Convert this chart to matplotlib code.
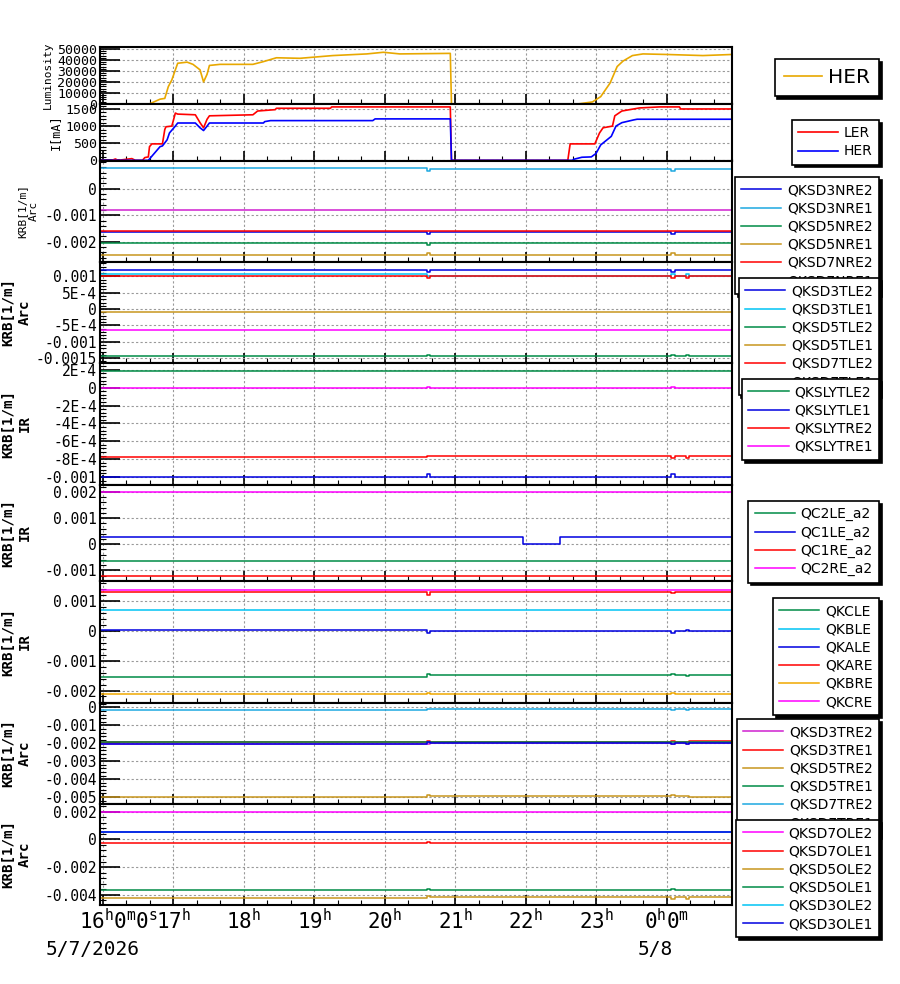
import matplotlib
matplotlib.use('Agg')
import matplotlib.pyplot as plt
from matplotlib.ticker import FixedLocator, FixedFormatter, AutoMinorLocator, MultipleLocator

plt.rcParams['font.family'] = 'DejaVu Sans Mono'
plt.rcParams['mathtext.fontset'] = 'custom'
plt.rcParams['mathtext.rm'] = 'DejaVu Sans Mono'
plt.rcParams['mathtext.it'] = 'DejaVu Sans Mono'


def hours(s):
    h, m = s.split(':')
    h = int(h)
    if h < 12:
        h += 24
    return h + int(m) / 60


# ---- beam monitor ----
LUMI_T = ['15:58', '16:40', '16:49', '16:53', '16:56', '16:59', '17:02', '17:04', '17:12', '17:17',
          '17:23', '17:26', '17:29', '17:31', '17:40', '18:08', '18:17', '18:28', '18:48', '19:16',
          '19:45', '19:59', '20:13', '20:56', '20:57', '22:45', '22:57', '23:04', '23:12', '23:18',
          '23:23', '23:31', '23:40', '00:00', '00:31', '00:56']
LUMI_HER = [0, 0, 4300, 5000, 15700, 21800, 31000, 37000, 38000, 36000,
            31000, 20000, 27000, 35000, 36000, 36000, 38500, 42000, 41500, 44000,
            45500, 47000, 45500, 46000, 0, 0, 1800, 6600, 19000, 34000,
            39000, 44000, 45500, 45000, 44000, 45000]

LER_T = ['15:58', '16:08', '16:11', '16:13', '16:25', '16:28', '16:34', '16:36', '16:39', '16:40',
         '16:42', '16:51', '16:53', '16:54', '16:59', '17:02', '17:04', '17:19', '17:23', '17:26',
         '17:29', '17:31', '18:08', '18:12', '18:27', '18:28', '19:14', '19:15', '20:56', '20:57',
         '22:36', '22:38', '22:59', '23:03', '23:06', '23:14', '23:16', '23:22', '23:37', '23:54',
         '00:11', '00:12', '00:56']
LER_I = [0, 0, 40, 0, 50, 0, 0, 80, 100, 400,
         480, 480, 900, 980, 1000, 1380, 1350, 1330, 1100, 950,
         1200, 1300, 1330, 1440, 1480, 1520, 1520, 1560, 1560, 0,
         0, 480, 480, 800, 950, 1000, 1300, 1440, 1530, 1560,
         1560, 1500, 1500]

HER_T = ['15:58', '16:39', '16:49', '16:51', '16:55', '16:57', '17:02', '17:04', '17:19', '17:23',
         '17:26', '17:29', '17:31', '18:17', '18:18', '18:23', '19:50', '19:52', '20:56', '20:57',
         '22:40', '22:41', '22:48', '22:56', '23:00', '23:04', '23:13', '23:17', '23:22', '23:32',
         '23:35', '00:56']
HER_I = [0, 0, 400, 420, 600, 800, 1000, 1090, 1090, 950,
         870, 1000, 1090, 1090, 1130, 1160, 1160, 1210, 1210, 0,
         0, 30, 90, 100, 200, 450, 700, 1000, 1100, 1180,
         1200, 1200]

# ---- magnet strengths (steps) ----
KRB_T = ['15:58', '20:36', '20:39', '00:04', '00:07', '00:17', '00:19', '00:56']

ARC_N_NAMES = ['QKSD3NRE2', 'QKSD3NRE1', 'QKSD5NRE2', 'QKSD5NRE1', 'QKSD7NRE2', 'QKSD7NRE1']
ARC_N_VALUES = [
    [-0.00164, -0.00172, -0.00164, -0.00172, -0.00164, -0.00164, -0.00164, -0.00164],
    [0.00079, 0.00068, 0.00075, 0.00068, 0.00075, 0.00075, 0.00075, 0.00075],
    [-0.00206, -0.00212, -0.00206, -0.00206, -0.00206, -0.00206, -0.00206, -0.00206],
    [-0.00251, -0.00244, -0.00251, -0.00244, -0.00251, -0.00251, -0.00251, -0.00251],
    [-0.00161, -0.00161, -0.00161, -0.00161, -0.00161, -0.00161, -0.00161, -0.00161],
    [-0.00079, -0.00079, -0.00079, -0.00079, -0.00079, -0.00079, -0.00079, -0.00079],
]

ARC_T_NAMES = ['QKSD3TLE2', 'QKSD3TLE1', 'QKSD5TLE2', 'QKSD5TLE1', 'QKSD7TLE2', 'QKSD7TLE1']
ARC_T_VALUES = [
    [0.00121, 0.00112, 0.00121, 0.00112, 0.00121, 0.00121, 0.00121, 0.00121],
    [0.00106, 0.00101, 0.00101, 0.00106, 0.00101, 0.00106, 0.00101, 0.00101],
    [-0.00145, -0.00139, -0.00145, -0.00139, -0.00145, -0.00139, -0.00145, -0.00145],
    [-0.00010, -0.00010, -0.00010, -0.00010, -0.00010, -0.00010, -0.00010, -0.00010],
    [0.00101, 0.00095, 0.00101, 0.00095, 0.00101, 0.00095, 0.00101, 0.00101],
    [-0.00065, -0.00065, -0.00065, -0.00065, -0.00065, -0.00065, -0.00065, -0.00065],
]

IR_SLY_NAMES = ['QKSLYTLE2', 'QKSLYTLE1', 'QKSLYTRE2', 'QKSLYTRE1']
IR_SLY_VALUES = [
    [0.00019, 0.00019, 0.00019, 0.00019, 0.00019, 0.00019, 0.00019, 0.00019],
    [-0.000995, -0.00097, -0.000995, -0.00097, -0.000995, -0.000995, -0.000995, -0.000995],
    [-0.00078, -0.000765, -0.000765, -0.00079, -0.000765, -0.00079, -0.000765, -0.000765],
    [-0.000005, 0.00001, -0.000005, 0.00001, -0.000005, -0.000005, -0.000005, -0.000005],
]

QC_T = ['15:58', '21:58', '22:29', '00:56']
IR_QC_NAMES = ['QC2LE_a2', 'QC1LE_a2', 'QC1RE_a2', 'QC2RE_a2']
IR_QC_VALUES = [
    [-0.00065, -0.00065, -0.00065, -0.00065],
    [0.000268, 0.0, 0.000268, 0.000268],
    [-0.0012, -0.0012, -0.0012, -0.0012],
    [0.00202, 0.00202, 0.00202, 0.00202],
]

IR_QK_NAMES = ['QKCLE', 'QKBLE', 'QKALE', 'QKARE', 'QKBRE', 'QKCRE']
IR_QK_VALUES = [
    [-0.00153, -0.00143, -0.00149, -0.00143, -0.00149, -0.00152, -0.00149, -0.00149],
    [0.000697, 0.000697, 0.000697, 0.000697, 0.000697, 0.000697, 0.000697, 0.000697],
    [0.000044, -0.00008, 0.00001, -0.00008, 0.00001, 0.00004, 0.00001, 0.00001],
    [0.0013, 0.00122, 0.0013, 0.00127, 0.0013, 0.0013, 0.0013, 0.0013],
    [-0.00213, -0.00208, -0.00213, -0.00208, -0.00213, -0.00213, -0.00213, -0.00213],
    [0.00137, 0.00137, 0.00137, 0.00137, 0.00137, 0.00137, 0.00137, 0.00137],
]

ARC_TR_NAMES = ['QKSD3TRE2', 'QKSD3TRE1', 'QKSD5TRE2', 'QKSD5TRE1', 'QKSD7TRE2', 'QKSD7TRE1']
ARC_TR_VALUES = [
    [-0.00204, -0.00204, -0.00196, -0.00204, -0.00196, -0.00204, -0.00196, -0.00196],
    [-0.00194, -0.00185, -0.00194, -0.00185, -0.00194, -0.00194, -0.00185, -0.00194],
    [-0.00500, -0.00490, -0.00494, -0.00488, -0.00494, -0.00494, -0.00500, -0.00494],
    [-0.00194, -0.00194, -0.00194, -0.00194, -0.00194, -0.00194, -0.00194, -0.00194],
    [-0.000156, -0.0001, -0.0001, -0.00016, -0.0001, -0.00016, -0.0001, -0.0001],
    [-0.00204, -0.00194, -0.00196, -0.00204, -0.00196, -0.00204, -0.00196, -0.00196],
]

ARC_OL_NAMES = ['QKSD7OLE2', 'QKSD7OLE1', 'QKSD5OLE2', 'QKSD5OLE1', 'QKSD3OLE2', 'QKSD3OLE1']
ARC_OL_VALUES = [
    [0.0020, 0.00195, 0.0020, 0.0020, 0.0020, 0.0020, 0.0020, 0.0020],
    [-0.00029, -0.0002, -0.00029, -0.00029, -0.00029, -0.00029, -0.00029, -0.00029],
    [-0.00425, -0.0041, -0.00418, -0.0043, -0.00418, -0.0043, -0.00418, -0.00418],
    [-0.00365, -0.00358, -0.00365, -0.00358, -0.00365, -0.00365, -0.00365, -0.00365],
    [0.00052, 0.00052, 0.00052, 0.00052, 0.00052, 0.00052, 0.00052, 0.00052],
    [0.00050, 0.00050, 0.00050, 0.00050, 0.00050, 0.00050, 0.00050, 0.00050],
]

BLUE, LBLUE, CYAN, GREEN = '#0000e0', '#1ca8e0', '#00c4f4', '#008c46'
GOLD, ORANGE, RED, MAG, PINK = '#c8961e', '#f0a800', '#ff0000', '#d020d0', '#ff00ff'

ARC_N_COLORS = [BLUE, LBLUE, GREEN, GOLD, RED, MAG]
ARC_T_COLORS = [BLUE, CYAN, GREEN, GOLD, RED, PINK]
IR_SLY_COLORS = [GREEN, BLUE, RED, PINK]
IR_QC_COLORS = [GREEN, BLUE, RED, PINK]
IR_QK_COLORS = [GREEN, CYAN, BLUE, RED, ORANGE, PINK]
ARC_TR_COLORS = [MAG, RED, GOLD, GREEN, LBLUE, BLUE]
ARC_OL_COLORS = [PINK, RED, GOLD, GREEN, CYAN, BLUE]

HOUR_TICKS = [16, 17, 18, 19, 20, 21, 22, 23, 24]
HOUR_LABELS = ['', '$17^{h}$', '$18^{h}$', '$19^{h}$', '$20^{h}$', '$21^{h}$', '$22^{h}$',
               '$23^{h}$', '$0^{h}0^{m}$']

fig = plt.figure(figsize=(9, 9.84), dpi=100)
heights = [57, 56.5, 101.5, 101, 122, 96, 122, 101, 101]
gs = fig.add_gridspec(9, 1, height_ratios=heights, hspace=0,
                      left=100 / 900, right=732 / 900, top=1 - 47 / 984, bottom=1 - 905 / 984)
axes = [fig.add_subplot(gs[0])]
for i in range(1, 9):
    axes.append(fig.add_subplot(gs[i], sharex=axes[0]))

legend_tops = [59, 120, 177, 278, 379, 501, 598, 719, 820]


def style(ax, ticks, labels, ylim, size):
    ax.set_ylim(*ylim)
    ax.yaxis.set_major_locator(FixedLocator(ticks))
    ax.yaxis.set_major_formatter(FixedFormatter(labels))
    ax.yaxis.set_minor_locator(AutoMinorLocator(5))
    ax.xaxis.set_major_locator(FixedLocator(HOUR_TICKS))
    ax.xaxis.set_minor_locator(MultipleLocator(1 / 3))
    ax.tick_params(axis='y', which='major', direction='in', length=14.4, width=1.2, labelsize=size, pad=2)
    ax.tick_params(axis='y', which='minor', direction='in', length=4.3, width=0.8)
    ax.tick_params(axis='x', which='major', direction='in', length=7, width=1.2, top=False)
    ax.tick_params(axis='x', which='minor', direction='in', length=3.6, width=0.8, top=False)
    ax.grid(True, which='major', color='#999999', linestyle=(0, (2, 2)), lw=0.8)
    for sp in ax.spines.values():
        sp.set_linewidth(1.5)


def add_legend(ax, top, size=10.0, hl=2.9, tp=0.4, ls=0.3):
    leg = ax.legend(loc='upper right', bbox_to_anchor=(879 / 900, 1 - top / 984),
                    bbox_transform=fig.transFigure, borderaxespad=0, fancybox=False,
                    shadow={'facecolor': 'black', 'edgecolor': 'black', 'alpha': 1},
                    framealpha=1, edgecolor='black',
                    prop={'family': 'DejaVu Sans', 'size': size},
                    handlelength=hl, handletextpad=tp, labelspacing=ls, borderpad=0.45)
    leg.get_frame().set_linewidth(1.2)


# panel 1: luminosity
ax = axes[0]
ax.plot([hours(t) for t in LUMI_T], LUMI_HER, color='#e8a800', lw=1.2, label='HER')
style(ax, [0, 10000, 20000, 30000, 40000, 50000], ['0', '10000', '20000', '30000', '40000', '50000'],
      (-100, 51800), 9.5)
ax.set_ylabel('Luminosity', fontsize=8)
ax.yaxis.set_label_coords((53 - 100) / 632, 0.5)
add_legend(ax, legend_tops[0], size=14.5, hl=1.9, tp=0.3)

# panel 2: currents
ax = axes[1]
ax.plot([hours(t) for t in LER_T], LER_I, color=RED, lw=1.2, label='LER')
ax.plot([hours(t) for t in HER_T], HER_I, color='#0000ff', lw=1.2, label='HER')
style(ax, [0, 500, 1000, 1500], ['0', '500', '1000', '1500'], (-5, 1645), 9.5)
ax.set_ylabel('I[mA]', fontsize=8.5)
ax.yaxis.set_label_coords((62 - 100) / 632, 0.5)
add_legend(ax, legend_tops[1])

panels = [
    (KRB_T, ARC_N_NAMES, ARC_N_VALUES, ARC_N_COLORS, 'Arc', (-0.00276, 0.00106),
     [0, -0.001, -0.002], ['0', '-0.001', '-0.002']),
    (KRB_T, ARC_T_NAMES, ARC_T_VALUES, ARC_T_COLORS, 'Arc', (-0.00165, 0.00144),
     [0.001, 5e-4, 0, -5e-4, -0.001, -0.0015], ['0.001', '5E-4', '0', '-5E-4', '-0.001', '-0.0015']),
    (KRB_T, IR_SLY_NAMES, IR_SLY_VALUES, IR_SLY_COLORS, 'IR', (-0.00109, 0.000276),
     [2e-4, 0, -2e-4, -4e-4, -6e-4, -8e-4, -0.001], ['2E-4', '0', '-2E-4', '-4E-4', '-6E-4', '-8E-4', '-0.001']),
    (QC_T, IR_QC_NAMES, IR_QC_VALUES, IR_QC_COLORS, 'IR', (-0.00141, 0.00227),
     [0.002, 0.001, 0, -0.001], ['0.002', '0.001', '0', '-0.001']),
    (KRB_T, IR_QK_NAMES, IR_QK_VALUES, IR_QK_COLORS, 'IR', (-0.00242, 0.00168),
     [0.001, 0, -0.001, -0.002], ['0.001', '0', '-0.001', '-0.002']),
    (KRB_T, ARC_TR_NAMES, ARC_TR_VALUES, ARC_TR_COLORS, 'Arc', (-0.00539, 0.00025),
     [0, -0.001, -0.002, -0.003, -0.004, -0.005], ['0', '-0.001', '-0.002', '-0.003', '-0.004', '-0.005']),
    (KRB_T, ARC_OL_NAMES, ARC_OL_VALUES, ARC_OL_COLORS, 'Arc', (-0.00473, 0.00254),
     [0.002, 0, -0.002, -0.004], ['0.002', '0', '-0.002', '-0.004']),
]

for k, (times, names, values, colors, region, ylim, ticks, labels) in enumerate(panels):
    ax = axes[k + 2]
    tx = [hours(t) for t in times]
    for name, vals, col in zip(names, values, colors):
        ax.plot(tx, vals, drawstyle='steps-post', color=col, lw=1.1, label=name)
    style(ax, ticks, labels, ylim, 10.5)
    if k == 0:
        ax.set_ylabel('KRB[1/m]\n' + region, fontsize=8, linespacing=1.25)
        ax.yaxis.set_label_coords((39 - 100) / 632, 0.5)
    else:
        ax.set_ylabel('KRB[1/m]\n' + region, fontsize=10.2, fontweight='bold', linespacing=1.25)
        ax.yaxis.set_label_coords((32 - 100) / 632, 0.5)
    add_legend(ax, legend_tops[k + 2])

for ax in axes[:-1]:
    ax.tick_params(axis='x', labelbottom=False)

ax = axes[-1]
ax.set_xlim(15.9645, 24.929)
ax.xaxis.set_major_formatter(FixedFormatter(HOUR_LABELS))
ax.tick_params(axis='x', which='major', labelsize=15, pad=2)
ax.annotate('$16^{h}0^{m}0^{s}$', xy=(16, 0), xycoords=('data', 'axes fraction'),
            xytext=(11.5, -2), textcoords='offset points', ha='center', va='top', fontsize=15)
ax.annotate('5/7/2026', xy=(16, 0), xycoords=('data', 'axes fraction'),
            xytext=(-7.2, -31.7), textcoords='offset points', ha='center', va='center', fontsize=14)
ax.annotate('5/8', xy=(24, 0), xycoords=('data', 'axes fraction'),
            xytext=(-8, -31.7), textcoords='offset points', ha='center', va='center', fontsize=14)

fig.savefig('out.png', dpi=100)
